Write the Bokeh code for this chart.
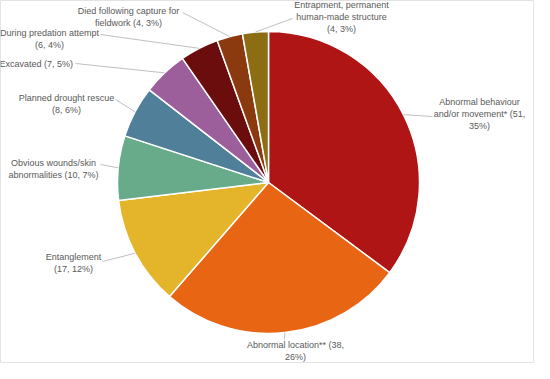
import math
from bokeh.plotting import figure
from bokeh.models import Range1d, ColumnDataSource
from bokeh.embed import file_html
from bokeh.resources import INLINE
from bokeh.core.properties import value

# ---- data (clockwise from 12 o'clock) ----
categories = [
    "Abnormal behaviour\nand/or movement* (51,\n35%)",
    "Abnormal location** (38,\n26%)",
    "Entanglement\n(17, 12%)",
    "Obvious wounds/skin\nabnormalities (10, 7%)",
    "Planned drought rescue\n(8, 6%)",
    "Excavated  (7, 5%)",
    "During predation attempt\n(6, 4%)",
    "Died following capture for\nfieldwork (4, 3%)",
    "Entrapment, permanent\nhuman-made structure\n(4, 3%)",
]
counts = [51, 38, 17, 10, 8, 7, 6, 4, 4]
colors = ["#B01515", "#E86513", "#E4B52A", "#67AB8B", "#507F99",
          "#9D5E9C", "#6B0D0D", "#8B3A0F", "#8C6D14"]

# ---- layout (figure pixel coords, origin bottom-left) ----
W, H = 534, 363
def fy(page_y):
    return H - (page_y - 8)
def fx(page_x):
    return page_x - 8

cx, cy, R = fx(276), fy(190), 151
# label block centres (page coords) and leader end points (page coords)
label_pos = [(487, 121), (303, 358), (81, 270), (61, 176), (74, 111),
             (45, 71), (57, 46), (136, 24), (349, 24)]
leader_end = [(440, 124), (292, 347), (110, 269), (108, 172), (123, 107),
              (83, 71), (108, 42), (190, 20), (300, 26)]

total = sum(counts)
starts, ends, mids = [], [], []
cum = 0
for c in counts:
    a0 = math.pi / 2 - 2 * math.pi * cum / total
    a1 = math.pi / 2 - 2 * math.pi * (cum + c) / total
    starts.append(a0)
    ends.append(a1)
    mids.append((a0 + a1) / 2)
    cum += c

p = figure(width=W, height=H, x_range=Range1d(0, W), y_range=Range1d(0, H),
           output_backend="svg", toolbar_location=None, min_border=0)
p.axis.visible = False
p.grid.visible = False
p.outline_line_color = "#E3E3E3"
p.background_fill_color = "white"

src = ColumnDataSource(dict(start=starts, end=ends, color=colors))
p.wedge(x=cx, y=cy, radius=R, start_angle="start", end_angle="end",
        direction="clock", fill_color="color", line_color="white",
        line_width=1.5, source=src)

# leader lines
xs, ys = [], []
for m, (ex, ey) in zip(mids, leader_end):
    xs.append([cx + R * math.cos(m), fx(ex)])
    ys.append([cy + R * math.sin(m), fy(ey)])
p.multi_line(xs, ys, line_color="#BFBFBF", line_width=1)

lsrc = ColumnDataSource(dict(x=[fx(a) for a, b in label_pos],
                             y=[fy(b) for a, b in label_pos],
                             t=categories))
p.text(x="x", y="y", text="t", source=lsrc, text_align="center",
       text_baseline="middle", text_font=value("Liberation Sans"),
       text_font_size="9px", text_color="#595959", text_line_height=1.2)

open("out.html", "w").write(file_html(p, INLINE))
